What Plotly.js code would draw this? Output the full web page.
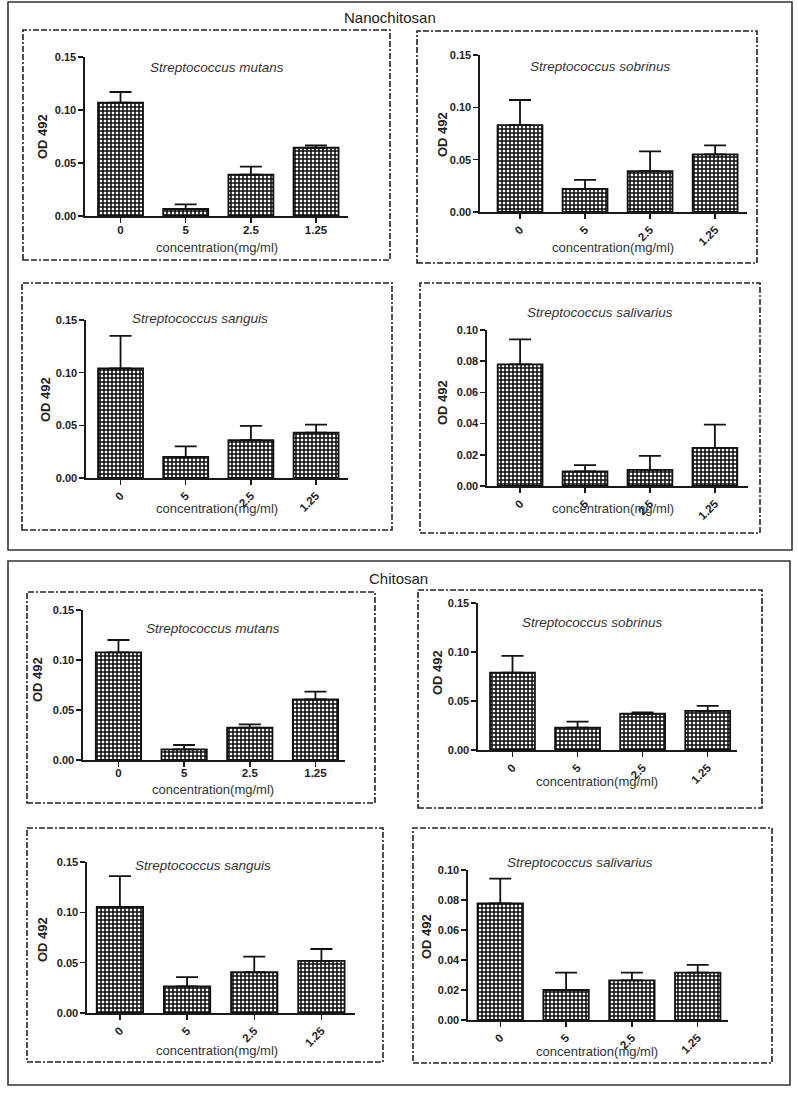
<!DOCTYPE html>
<html>
<head>
<meta charset="utf-8">
<script src="https://cdn.plot.ly/plotly-3.0.1.min.js"></script>
<style>
html,body{margin:0;padding:0;background:#fff;}
#chart{width:798px;height:1093px;}
</style>
</head>
<body>
<div id="chart"></div>
<script>
// ---------- data ----------
const categories = ['0', '5', '2.5', '1.25'];
const groupTitles = ['Nanochitosan', 'Chitosan'];
const speciesNames = ['Streptococcus mutans', 'Streptococcus sobrinus', 'Streptococcus sanguis', 'Streptococcus salivarius'];
const yAxisLabel = 'OD 492';
const xAxisLabel = 'concentration(mg/ml)';

const nanoMutans        = [0.107, 0.0066, 0.039, 0.0644];
const nanoMutansSD      = [0.010, 0.0044, 0.0075, 0.0023];
const nanoSobrinus      = [0.083, 0.022, 0.039, 0.055];
const nanoSobrinusSD    = [0.024, 0.0086, 0.019, 0.0086];
const nanoSanguis       = [0.104, 0.020, 0.036, 0.043];
const nanoSanguisSD     = [0.031, 0.010, 0.0135, 0.0076];
const nanoSalivarius    = [0.078, 0.0094, 0.0103, 0.0244];
const nanoSalivariusSD  = [0.016, 0.004, 0.009, 0.015];

const chitoMutans       = [0.1077, 0.0107, 0.0323, 0.0607];
const chitoMutansSD     = [0.0123, 0.0043, 0.0034, 0.0076];
const chitoSobrinus     = [0.079, 0.0228, 0.037, 0.040];
const chitoSobrinusSD   = [0.017, 0.0061, 0.0014, 0.0051];
const chitoSanguis      = [0.1054, 0.0264, 0.0405, 0.0517];
const chitoSanguisSD    = [0.0306, 0.0092, 0.0155, 0.0119];
const chitoSalivarius   = [0.0778, 0.020, 0.0264, 0.0316];
const chitoSalivariusSD = [0.0164, 0.0116, 0.0052, 0.0051];

const seriesList = [
  [nanoMutans, nanoMutansSD], [nanoSobrinus, nanoSobrinusSD],
  [nanoSanguis, nanoSanguisSD], [nanoSalivarius, nanoSalivariusSD],
  [chitoMutans, chitoMutansSD], [chitoSobrinus, chitoSobrinusSD],
  [chitoSanguis, chitoSanguisSD], [chitoSalivarius, chitoSalivariusSD]
];
const yMax = [0.15, 0.15, 0.15, 0.10, 0.15, 0.15, 0.15, 0.10];
const yStep = [0.05, 0.05, 0.05, 0.02, 0.05, 0.05, 0.05, 0.02];

// ---------- layout geometry (pixels) ----------
const W = 798, H = 1093;
const FONT = 'Liberation Sans, Arial, sans-serif';
const INK = '#1a1a1a';
const px = x => x / W;
const py = y => 1 - y / H;

const panels = [
  {ax:[85,348], y0:216, yt:57,  xr:[-0.545,3.49], ang:0,   so:-2, box:[23,30,390,260],  t:[217,68],  xt:[217,248],  yl:[42,137]},
  {ax:[480,747],y0:212, yt:55,  xr:[-0.615,3.49], ang:-45, so:0,  box:[417,31,757,263], t:[600,67],  xt:[613,248],  yl:[442,135]},
  {ax:[86,348], y0:478, yt:320, xr:[-0.53,3.49],  ang:-45, so:0,  box:[22,283,392,530], t:[200,318], xt:[217,508],  yl:[45,400]},
  {ax:[487,748],y0:486, yt:330, xr:[-0.51,3.51],  ang:-45, so:0,  box:[420,283,760,533],t:[600,312], xt:[613,508],  yl:[442,403]},
  {ax:[83,345], y0:760, yt:610, xr:[-0.54,3.45],  ang:0,   so:-3, box:[27,592,375,803], t:[213,628], xt:[213,789],  yl:[37,680]},
  {ax:[478,737],y0:750, yt:603, xr:[-0.53,3.45],  ang:-45, so:0,  box:[418,590,762,808],t:[592,622], xt:[597,781],  yl:[437,673]},
  {ax:[87,355], y0:1013,yt:862, xr:[-0.49,3.5],   ang:-45, so:0,  box:[27,828,383,1062],t:[203,865], xt:[217,1050], yl:[42,940]},
  {ax:[468,728],y0:1020,yt:870, xr:[-0.49,3.46],  ang:-45, so:0,  box:[413,828,772,1063],t:[580,862],xt:[597,1051], yl:[426,937]}
];
const outerBoxes = [[8,2,792,550],[8,561,790,1085]];
const groupTitlePos = [[390,17],[398,578]];

const traces = [];
const layout = {
  width: W, height: H,
  margin: {l:0, r:0, t:0, b:0},
  paper_bgcolor: '#fff', plot_bgcolor: 'rgba(0,0,0,0)',
  showlegend: false,
  bargap: 0.31,
  font: {family: FONT, color: INK},
  shapes: [], annotations: []
};

panels.forEach((p, i) => {
  const n = i + 1;
  const xa = 'x' + (n === 1 ? '' : n), ya = 'y' + (n === 1 ? '' : n);
  const [vals, sd] = seriesList[i];
  traces.push({
    type: 'bar', x: categories, y: vals, xaxis: xa, yaxis: ya,
    marker: {
      color: '#ffffff',
      line: {color: '#111', width: 1.8},
      pattern: {shape: '+', fgcolor: '#0d0d0d', bgcolor: '#ffffff', size: 4, solidity: 0.62}
    },
    error_y: {type: 'data', symmetric: false, array: sd, arrayminus: sd.map(() => 0),
              color: '#111', thickness: 1.8, width: 11},
    hoverinfo: 'skip'
  });
  layout['xaxis' + (n === 1 ? '' : n)] = {
    domain: [px(p.ax[0]), px(p.ax[1])], anchor: ya, type: 'category',
    range: p.xr, showline: true, linecolor: INK, linewidth: 1.6,
    ticks: 'outside', ticklen: 5, tickwidth: 1.5, tickcolor: INK,
    ticklabelstandoff: p.so,
    showgrid: false, zeroline: false, tickangle: p.ang, fixedrange: true,
    tickfont: {family: FONT, size: 11.5, color: '#222', weight: 'bold'}
  };
  layout['yaxis' + (n === 1 ? '' : n)] = {
    domain: [py(p.y0), py(p.yt)], anchor: xa,
    range: [0, yMax[i]], dtick: yStep[i], tick0: 0, tickformat: '.2f',
    showline: true, linecolor: INK, linewidth: 1.6,
    ticks: 'outside', ticklen: 5, tickwidth: 1.5, tickcolor: INK,
    showgrid: false, zeroline: false, fixedrange: true,
    tickfont: {family: FONT, size: 11, color: '#222', weight: 'bold'}
  };
  // dashed panel frame
  layout.shapes.push({
    type: 'rect', xref: 'paper', yref: 'paper',
    x0: px(p.box[0]), x1: px(p.box[2]), y0: py(p.box[3]), y1: py(p.box[1]),
    line: {color: '#222', width: 1.6, dash: '6px,2px,6px,2px,2px,2px'}
  });
  // species title
  layout.annotations.push({
    xref: 'paper', yref: 'paper', x: px(p.t[0]), y: py(p.t[1]),
    xanchor: 'center', yanchor: 'middle', showarrow: false,
    text: speciesNames[i % 4],
    font: {family: FONT, size: 13.5, color: '#333', style: 'italic'}
  });
  // x axis title
  layout.annotations.push({
    xref: 'paper', yref: 'paper', x: px(p.xt[0]), y: py(p.xt[1]),
    xanchor: 'center', yanchor: 'middle', showarrow: false,
    text: xAxisLabel, font: {family: FONT, size: 13, color: '#333'}
  });
  // y axis title
  layout.annotations.push({
    xref: 'paper', yref: 'paper', x: px(p.yl[0]), y: py(p.yl[1]),
    xanchor: 'center', yanchor: 'middle', showarrow: false, textangle: -90,
    text: yAxisLabel, font: {family: FONT, size: 13, color: '#222', weight: 'bold'}
  });
});

outerBoxes.forEach(b => {
  layout.shapes.push({
    type: 'rect', xref: 'paper', yref: 'paper',
    x0: px(b[0]), x1: px(b[2]), y0: py(b[3]), y1: py(b[1]),
    line: {color: '#333', width: 1.6}
  });
});
groupTitles.forEach((g, i) => {
  layout.annotations.push({
    xref: 'paper', yref: 'paper', x: px(groupTitlePos[i][0]), y: py(groupTitlePos[i][1]),
    xanchor: 'center', yanchor: 'middle', showarrow: false,
    text: g, font: {family: FONT, size: 15, color: '#222'}
  });
});

Plotly.newPlot('chart', traces, layout, {staticPlot: true, displayModeBar: false});
</script>
</body>
</html>
